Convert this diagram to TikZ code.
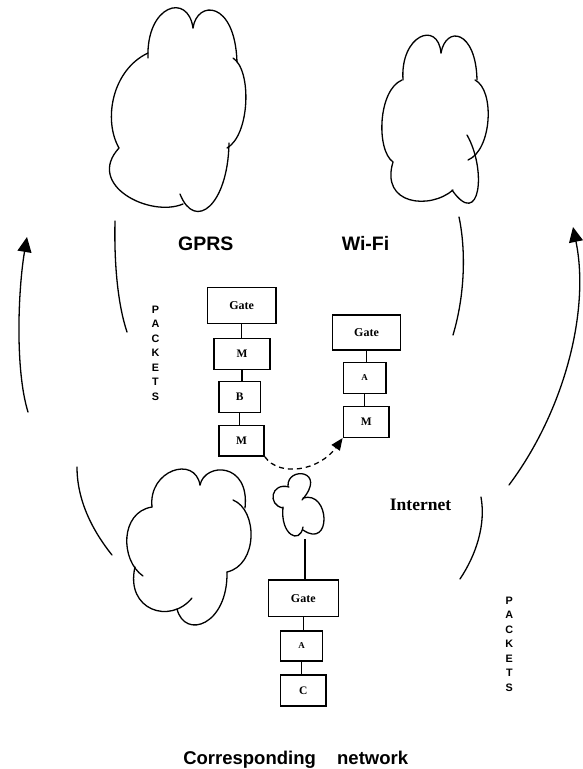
\documentclass[tikz,border=0pt]{standalone}
\usepackage{fontspec}
\setmainfont{Liberation Serif}
\setsansfont{Liberation Sans}
\usetikzlibrary{arrows.meta}
\begin{document}
\begin{tikzpicture}[x=1pt,y=-1pt,
  curve/.style={line width=1.3pt, line cap=round},
  link/.style={line width=1.3pt},
  nbox/.style={draw, line width=1.5pt, inner sep=0pt, font=\bfseries\fontsize{11.5}{13}\selectfont},
  gatef/.style={font=\bfseries\fontsize{12}{14}\selectfont},
  smallf/.style={font=\bfseries\fontsize{9}{11}\selectfont},
  bigsans/.style={font=\sffamily\bfseries\fontsize{19.5}{22}\selectfont, anchor=base, inner sep=0pt},
  vert/.style={font=\sffamily\bfseries\fontsize{10.8}{14.5}\selectfont, align=center, inner sep=0pt},
  bigarrow/.style={-{Triangle[length=15pt,width=14pt]}}]
\path[use as bounding box] (0,0) rectangle (582,769);

% GPRS cloud
\draw[curve] (119,148) .. controls (103,120) and (112,70) .. (148,53);
\draw[curve] (148,58) .. controls (146,5) and (188,-8) .. (193,28);
\draw[curve] (193,28) .. controls (197,0) and (235,0) .. (237,62);
\draw[curve] (233,58) .. controls (252,70) and (250,135) .. (227,148);
\draw[curve] (229,143) .. controls (228,205) and (195,232) .. (180,194);
\draw[curve] (183,204) .. controls (150,218) and (85,185) .. (119,148);

% Wi-Fi cloud
\draw[curve] (393,162) .. controls (376,150) and (378,90) .. (402,80);
\draw[curve] (403,80) .. controls (400,35) and (438,20) .. (441,53);
\draw[curve] (441,53) .. controls (446,25) and (476,30) .. (477,80);
\draw[curve] (475,80) .. controls (495,90) and (492,150) .. (468,160);
\draw[curve] (467,135) .. controls (487,170) and (480,230) .. (452,190);
\draw[curve] (453,190) .. controls (430,210) and (380,205) .. (393,162);

% Internet (small) cloud
\draw[curve] (288,486) .. controls (287,466) and (328,470) .. (302,500);
\draw[curve] (303,498) .. controls (330,490) and (332,550) .. (303,530);
\draw[curve] (303,527) .. controls (300,545) and (280,535) .. (283,507);
\draw[curve] (283,508) .. controls (267,505) and (271,482) .. (289,487);

% lower-left cloud
\draw[curve] (152,507) .. controls (148,470) and (195,455) .. (200,485);
\draw[curve] (200,485) .. controls (205,462) and (250,462) .. (245,508);
\draw[curve] (233,500) .. controls (258,510) and (258,565) .. (227,572);
\draw[curve] (227,572) .. controls (228,625) and (185,640) .. (177,609);
\draw[curve] (192,598) .. controls (170,625) and (125,610) .. (135,567);
\draw[curve] (143,576) .. controls (120,560) and (120,512) .. (152,507);

% arcs and packet arrows
\coordinate (la0) at (28,412);   \coordinate (la1) at (27,237);
\coordinate (li0) at (115,221);  \coordinate (li1) at (127,332);
\coordinate (ll0) at (77,467);   \coordinate (ll1) at (112,555);
\coordinate (wi0) at (459,217);  \coordinate (wi1) at (453,335);
\coordinate (ra0) at (509,485);  \coordinate (ra1) at (573,227);
\coordinate (ia0) at (481,497);  \coordinate (ia1) at (460,579);
\draw[curve, bigarrow] (la0) .. controls (15,370) and (18,290) .. (la1);
\draw[curve] (li0) .. controls (114,265) and (118,305) .. (li1);
\draw[curve] (ll0) .. controls (77,500) and (92,530) .. (ll1);
\draw[curve] (wi0) .. controls (466,250) and (465,295) .. (wi1);
\draw[curve, bigarrow] (ra0) .. controls (565,410) and (590,310) .. (ra1);
\draw[curve] (ia0) .. controls (486,525) and (476,555) .. (ia1);

% labels
\node[bigsans] (gprs) at (205.8,250.7) {GPRS};
\node[bigsans] (wifi) at (365.5,250.3) {Wi-Fi};
\node[font=\bfseries\fontsize{17.5}{20}\selectfont, anchor=base, inner sep=0pt] (inet) at (420.5,510) {Internet};
\node[font=\sffamily\bfseries\fontsize{18.5}{22}\selectfont, anchor=base, inner sep=0pt] (corr) at (295.7,764.3) {Corresponding \hspace{11pt} network};
\node[vert] (pk1) at (155.5,353.2) {P\\A\\C\\K\\E\\T\\S};
\node[vert] (pk2) at (509.3,644) {P\\A\\C\\K\\E\\T\\S};

% boxes
\node[nbox, gatef, minimum width=68.7pt, minimum height=36pt] (g1) at (241.7,305.3) {Gate};
\node[nbox, minimum width=56pt, minimum height=31pt] (m1) at (242,353.8) {M};
\node[nbox, minimum width=41.7pt, minimum height=30.6pt] (b) at (239.8,397) {B};
\node[nbox, minimum width=45pt, minimum height=30.3pt] (m2) at (241.5,440.8) {M};
\node[nbox, gatef, minimum width=68.3pt, minimum height=35pt] (g2) at (366.5,332.5) {Gate};
\node[nbox, smallf, minimum width=42.7pt, minimum height=30.6pt] (a2) at (364.7,378) {A};
\node[nbox, minimum width=45.7pt, minimum height=30.6pt] (m3) at (366.2,422) {M};
\node[nbox, gatef, minimum width=70pt, minimum height=36.7pt] (g3) at (303.3,598.3) {Gate};
\node[nbox, smallf, minimum width=42pt, minimum height=30pt] (a3) at (301.7,646) {A};
\node[nbox, minimum width=45.3pt, minimum height=31pt] (c) at (303.3,690.5) {C};

% connectors
\draw[link] (g1.south) -- (g1.south |- m1.north);
\draw[link] (m1.south) -- (m1.south |- b.north);
\draw[link] (b.south) -- (b.south |- m2.north);
\draw[link] (g2.south) -- (g2.south |- a2.north);
\draw[link] (a2.south) -- (a2.south |- m3.north);
\draw[link] (g3.south) -- (g3.south |- a3.north);
\draw[link] (a3.south) -- (a3.south |- c.north);
\coordinate (inetbot) at (305,539);
\draw[link] (inetbot) -- (inetbot |- g3.north);
\draw[link, dash pattern=on 5pt off 4pt, -{Triangle[length=12pt,width=10pt]}]
  (m2.south east) .. controls (280,478) and (320,470) .. (m3.south west);
\end{tikzpicture}
\end{document}
